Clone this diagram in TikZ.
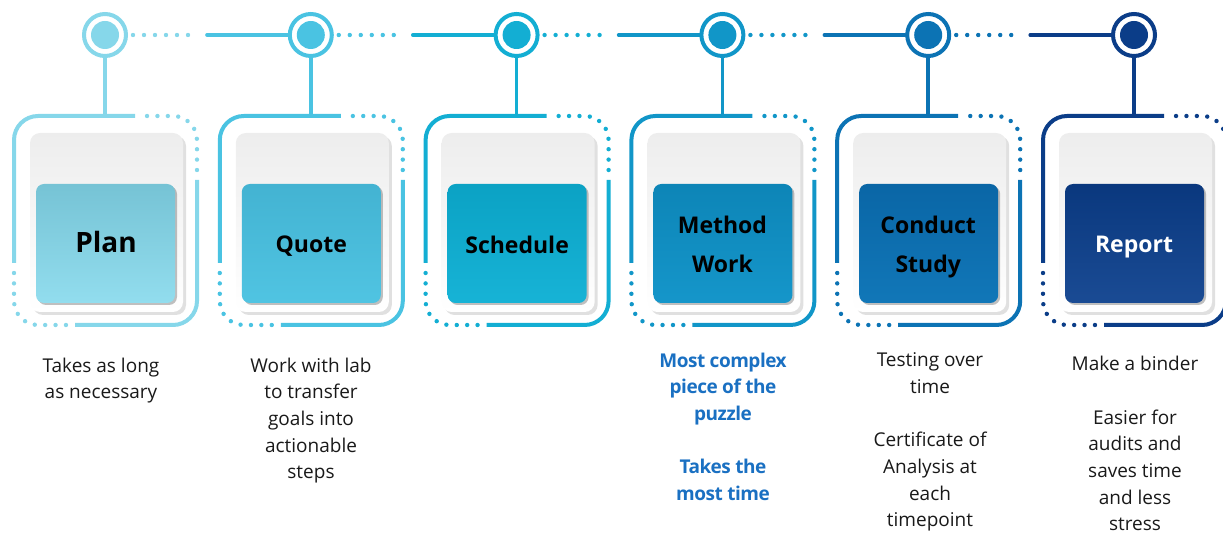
\documentclass[tikz,border=0pt]{standalone}
\usepackage{fontspec}
\setmainfont{Open Sans}
\usetikzlibrary{shadows}
\definecolor{c0}{HTML}{86D7EA}
\definecolor{c1}{HTML}{4AC3E2}
\definecolor{c2}{HTML}{13AED3}
\definecolor{c3}{HTML}{1196C8}
\definecolor{c4}{HTML}{0C73B4}
\definecolor{c5}{HTML}{0B3D88}
\definecolor{bt0}{HTML}{76C3D5}\definecolor{bb0}{HTML}{92DDEE}
\definecolor{bt1}{HTML}{43B3D2}\definecolor{bb1}{HTML}{50C4E2}
\definecolor{bt2}{HTML}{0BA2C4}\definecolor{bb2}{HTML}{17B3D6}
\definecolor{bt3}{HTML}{0D85B7}\definecolor{bb3}{HTML}{1596CA}
\definecolor{bt4}{HTML}{0A66A6}\definecolor{bb4}{HTML}{1177B8}
\definecolor{bt5}{HTML}{0A387E}\definecolor{bb5}{HTML}{1A4B94}
\definecolor{textblue}{HTML}{1A70C2}
\tikzset{
  framesolid/.style={line width=4pt, rounded corners=24pt},
  framedots/.style={line width=4.4pt, rounded corners=24pt, line cap=round, dash pattern=on 0pt off 10.4pt},
  dotline/.style={line width=4.4pt, line cap=round, dash pattern=on 0pt off 11pt},
  solidline/.style={line width=3.6pt},
  ring/.style={circle, line width=4pt, minimum size=42pt, inner sep=0pt, fill=white},
  card/.style={rounded corners=10pt, top color=black!7, bottom color=white,
    drop shadow={shadow xshift=3pt, shadow yshift=-3pt, opacity=0.2, fill=black!60}},
  stepbox/.style={rounded corners=8pt,
    drop shadow={shadow xshift=2pt, shadow yshift=-2pt, opacity=0.35, fill=black!70}},
  steplabel/.style={font=\fontsize{23}{39}\selectfont\bfseries, align=center, inner sep=0pt},
  body/.style={font=\fontsize{19}{26.7}\selectfont, align=center, anchor=north, inner sep=0pt, text=black!90},
  bodyblue/.style={body, font=\fontsize{19}{26.7}\selectfont\bfseries\addfontfeature{LetterSpace=-2.5}, text=textblue},
}
\begin{document}
\begin{tikzpicture}[x=1pt,y=-1pt]
\useasboundingbox (0,0) rectangle (1223,534);
% frames, cards and boxes
\foreach \i in {0,...,5}{
  \pgfmathsetmacro\cx{105+205.8*\i}
  \draw[framesolid, draw=c\i] (\cx+30,116) -- (\cx-91,116) -- (\cx-91,263);
  \draw[framedots, draw=c\i] (\cx-91,273) -- (\cx-91,325) -- (\cx-38,325);
  \draw[framesolid, draw=c\i] (\cx-30,325) -- (\cx+92,325) -- (\cx+92,180);
  \draw[framedots, draw=c\i] (\cx+92,170) -- (\cx+92,116) -- (\cx+38,116);
  \path[card] (\cx-75,133) rectangle (\cx+78,312);
  \path[stepbox, top color=bt\i, bottom color=bb\i] (\cx-69,184) rectangle (\cx+70,303);
  \coordinate (f\i) at (\cx,116);
  \node[ring, draw=c\i] (c\i) at (\cx,35) {};
  \fill[c\i] (c\i) circle (14pt);
  \draw[solidline, draw=c\i] (c\i.south) -- (f\i);
}
% connectors between circles
\foreach \i/\j in {0/1,1/2,2/3,3/4,4/5}{
  \pgfmathsetmacro\cx{105+205.8*\i}
  \coordinate (d\i) at (\cx+94,35);
  \coordinate (s\i) at (\cx+102,35);
  \draw[dotline, draw=c\i] ([xshift=5pt]c\i.east) -- (d\i);
  \draw[solidline, draw=c\j, line cap=round] (s\i) -- (c\j.west);
}
% labels
\node[steplabel, font=\fontsize{28}{39}\selectfont\bfseries] (l0) at (106,242.5) {Plan};
\node[steplabel] (l1) at (311.3,246.5) {Quote};
\node[steplabel] (l2) at (517.1,244.5) {Schedule};
\node[steplabel] (l3) at (722.4,244) {Method\\Work};
\node[steplabel] (l4) at (928.2,247) {Conduct\\Study};
\node[steplabel, text=white] (l5) at (1134,247.5) {Report};
% texts
\node[body] (t0) at (101,357.5) {Takes as long\\as necessary};
\node[body] (t1) at (311,357.5) {Work with lab\\to transfer\\goals into\\actionable\\steps};
\node[bodyblue] (t3) at (723,352.5) {Most complex\\piece of the\\puzzle\\[26.7pt]Takes the\\most time};
\node[body] (t4) at (930,352.5) {Testing over\\time\\[26.7pt]Certificate of\\Analysis at\\each\\timepoint};
\node[body] (t5) at (1135,356) {Make a binder\\[26.7pt]Easier for\\audits and\\saves time\\and less\\stress};
\end{tikzpicture}
\end{document}
